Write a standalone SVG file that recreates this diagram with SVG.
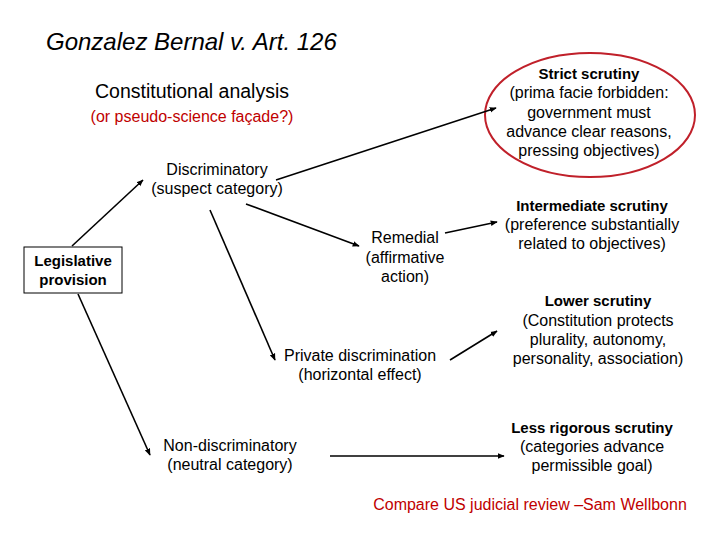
<svg xmlns="http://www.w3.org/2000/svg" width="720" height="540" viewBox="0 0 720 540">
<defs>
<marker id="ah" viewBox="0 0 10 10" refX="9" refY="5" markerWidth="7" markerHeight="7" orient="auto" markerUnits="userSpaceOnUse"><path d="M0,1 L10,5 L0,9 z" fill="#000"/></marker>
<style>
text{font-family:"Liberation Sans",Arial,sans-serif;font-size:16px;fill:#000;text-anchor:middle}
.b{font-weight:bold;font-size:15px}
line{stroke:#000;stroke-width:1.6;marker-end:url(#ah)}
</style>
</defs>
<rect width="720" height="540" fill="#fff"/>
<text x="46" y="50" style="font-size:24px;font-style:italic;text-anchor:start">Gonzalez Bernal v. Art. 126</text>
<g id="title2"><text x="192" y="98" style="font-size:19.5px">Constitutional analysis</text>
<text x="192" y="122" style="fill:#c00000">(or pseudo-science façade?)</text></g>
<g id="strict"><ellipse cx="590" cy="115" rx="105" ry="62" fill="none" stroke="#c0202a" stroke-width="2"/>
<text x="589" y="79" class="b">Strict scrutiny</text><text x="589" y="98">(prima facie forbidden:</text><text x="589" y="118">government must</text><text x="589" y="137">advance clear reasons,</text><text x="589" y="156">pressing objectives)</text></g>
<g id="disc"><text x="217" y="175">Discriminatory</text><text x="217" y="194">(suspect category)</text></g>
<g id="leg"><rect x="24" y="247" width="98" height="46" fill="#fff" stroke="#000" stroke-width="1"/>
<text x="73" y="266" class="b">Legislative</text><text x="73" y="285" class="b">provision</text></g>
<g id="remedial"><text x="405" y="243">Remedial</text><text x="405" y="263">(affirmative</text><text x="405" y="282">action)</text></g>
<g id="inter"><text x="592" y="211" class="b">Intermediate scrutiny</text><text x="592" y="230">(preference substantially</text><text x="592" y="249">related to objectives)</text></g>
<g id="lower"><text x="598" y="306" class="b">Lower scrutiny</text><text x="598" y="326">(Constitution protects</text><text x="598" y="345">plurality, autonomy,</text><text x="598" y="364">personality, association)</text></g>
<g id="private"><text x="360" y="361">Private discrimination</text><text x="360" y="380">(horizontal effect)</text></g>
<g id="nondisc"><text x="230" y="451">Non-discriminatory</text><text x="230" y="470">(neutral category)</text></g>
<g id="less"><text x="592" y="433" class="b">Less rigorous scrutiny</text><text x="592" y="452">(categories advance</text><text x="592" y="471">permissible goal)</text></g>
<text x="530" y="510" style="fill:#c00000">Compare US judicial review –Sam Wellbonn</text>
<g id="connectors">
<line x1="72" y1="246" x2="143" y2="180"/>
<line x1="276" y1="180" x2="496" y2="108"/>
<line x1="246" y1="204" x2="359" y2="246"/>
<line x1="210" y1="210" x2="275" y2="360"/>
<line x1="78" y1="294" x2="150" y2="455"/>
<line x1="445" y1="233" x2="497" y2="222"/>
<line x1="450" y1="360" x2="497" y2="331"/>
<line x1="330" y1="456" x2="504" y2="456"/>
</g>
</svg>
